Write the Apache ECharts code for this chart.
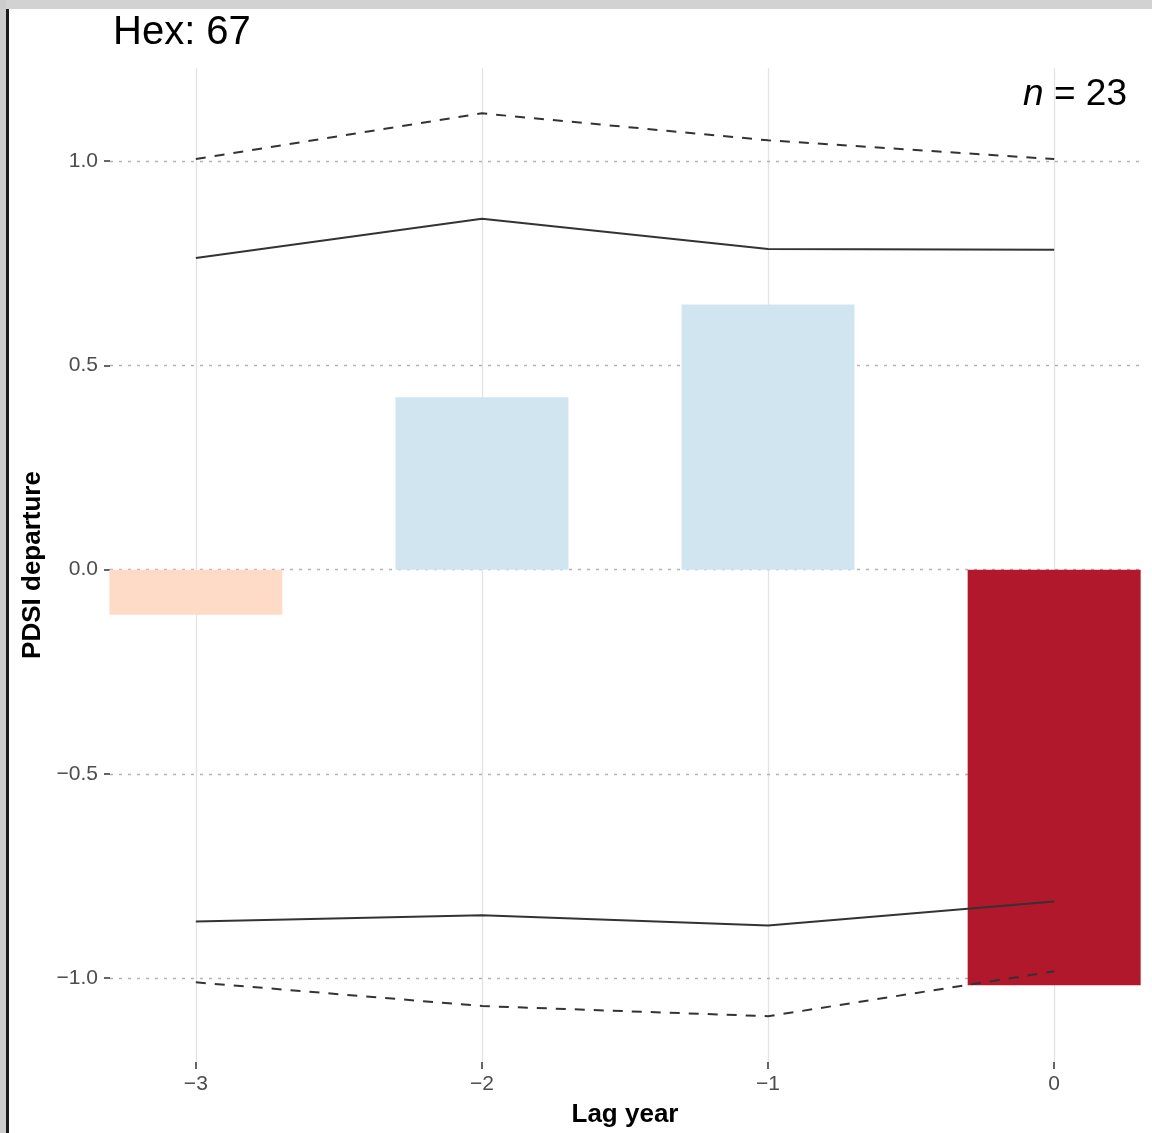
<!DOCTYPE html>
<html><head><meta charset="utf-8">
<script src="https://cdn.jsdelivr.net/npm/echarts@6/dist/echarts.min.js"></script>
<style>html,body{margin:0;padding:0;background:#fff}#c{width:1152px;height:1133px}</style>
</head><body><div id="c"></div>
<script>
var lagYears = [-3, -2, -1, 0];
var departure = [-0.11, 0.422, 0.649, -1.017];
var upperSolid = [0.763, 0.859, 0.785, 0.783];
var upperDashed = [1.005, 1.117, 1.051, 1.005];
var lowerSolid = [-0.861, -0.846, -0.871, -0.812];
var lowerDashed = [-1.010, -1.068, -1.093, -0.983];
var yTicks = [-1.0, -0.5, 0.0, 0.5, 1.0];
var xTicks = [-3, -2, -1, 0];
var titleText = 'Hex: 67';
var nCount = 23;

function pairs(xs, ys){ return xs.map(function(x,i){ return [x, ys[i]]; }); }
function barColor(v){
  if (v <= -1) return '#b2182b';
  if (v <= -0.5) return '#ef8a62';
  if (v < 0) return '#fddbc7';
  if (v < 1) return '#d1e5f0';
  return '#67a9cf';
}
function fmtMinus(s){ return String(s).replace('-', '\u2212'); }

var chart = echarts.init(document.getElementById('c'), null, {renderer:'canvas'});
var lineBase = {type:'line', symbol:'none', silent:true, z:5, animation:false};
var option = {
  animation:false,
  backgroundColor:'#ffffff',
  grid:{left:110, right:12, top:68, bottom:69},
  xAxis:{
    type:'value', min:-3.3, max:0.3,
    axisLine:{show:false, onZero:false},
    splitLine:{show:false},
    axisTick:{show:true, customValues:xTicks, length:7, lineStyle:{color:'#333', width:1.5}},
    axisLabel:{customValues:xTicks, color:'#4d4d4d', fontSize:21, fontFamily:'Liberation Sans, Arial', margin:12,
      formatter:function(v){ return fmtMinus(v); }},
    name:'Lag year', nameLocation:'middle', nameGap:40,
    nameTextStyle:{fontSize:26, fontWeight:'bold', color:'#000', fontFamily:'Liberation Sans, Arial'}
  },
  yAxis:{
    type:'value', min:-1.205, max:1.228,
    axisLine:{show:false, onZero:false},
    splitLine:{show:false},
    axisTick:{show:true, customValues:yTicks, length:6, lineStyle:{color:'#333', width:1.5}},
    axisLabel:{customValues:yTicks, color:'#4d4d4d', fontSize:21, fontFamily:'Liberation Sans, Arial', margin:12,
      formatter:function(v){ return fmtMinus(v.toFixed(1)); }},
    name:'PDSI departure', nameLocation:'middle', nameGap:62,
    nameTextStyle:{fontSize:26, fontWeight:'bold', color:'#000', fontFamily:'Liberation Sans, Arial'}
  },
  series:[
    {type:'line', data:[], silent:true, z:1, symbol:'none',
      markLine:{silent:true, z:1, symbol:['none','none'], label:{show:false}, animation:false,
        data: xTicks.map(function(x){ return {xAxis:x, lineStyle:{color:'#e3e3e3', width:1.3, type:'solid'}}; })
          .concat(yTicks.map(function(y){ return {yAxis:y, lineStyle:{color:'#b3b3b3', width:1.3, type:[3,6]}}; }))
      }},
    {type:'bar', z:3, silent:true, barWidth:173,
      data: pairs(lagYears, departure),
      itemStyle:{color:function(p){ return barColor(p.value[1]); }}},
    Object.assign({}, lineBase, {data:pairs(lagYears, upperSolid), lineStyle:{color:'#333', width:2, type:'solid'}}),
    Object.assign({}, lineBase, {data:pairs(lagYears, lowerSolid), lineStyle:{color:'#333', width:2, type:'solid'}}),
    Object.assign({}, lineBase, {data:pairs(lagYears, upperDashed), lineStyle:{color:'#333', width:2, type:[10,9]}}),
    Object.assign({}, lineBase, {data:pairs(lagYears, lowerDashed), lineStyle:{color:'#333', width:2, type:[10,9]}})
  ],
  graphic:[
    {type:'rect', left:0, top:0, shape:{width:1152, height:9}, style:{fill:'#d2d2d2'}, z:100},
    {type:'rect', left:0, top:0, shape:{width:6, height:1133}, style:{fill:'#cccccc'}, z:100},
    {type:'rect', left:6, top:9, shape:{width:3, height:1124}, style:{fill:'#1a1a1a'}, z:100},
    {type:'text', x:113, y:33, z:100, style:{text:titleText, fontSize:40, fontFamily:'Liberation Sans, Arial', fill:'#000', textVerticalAlign:'middle'}},
    {type:'text', x:1127, y:95, z:100, style:{text:'{i|n} = ' + nCount, textAlign:'right', textVerticalAlign:'middle',
      fontSize:37, fontFamily:'Liberation Sans, Arial', fill:'#000',
      rich:{i:{fontStyle:'italic', fontSize:37, fontFamily:'Liberation Sans, Arial', fill:'#000'}}}}
  ]
};
chart.setOption(option);
</script></body></html>
